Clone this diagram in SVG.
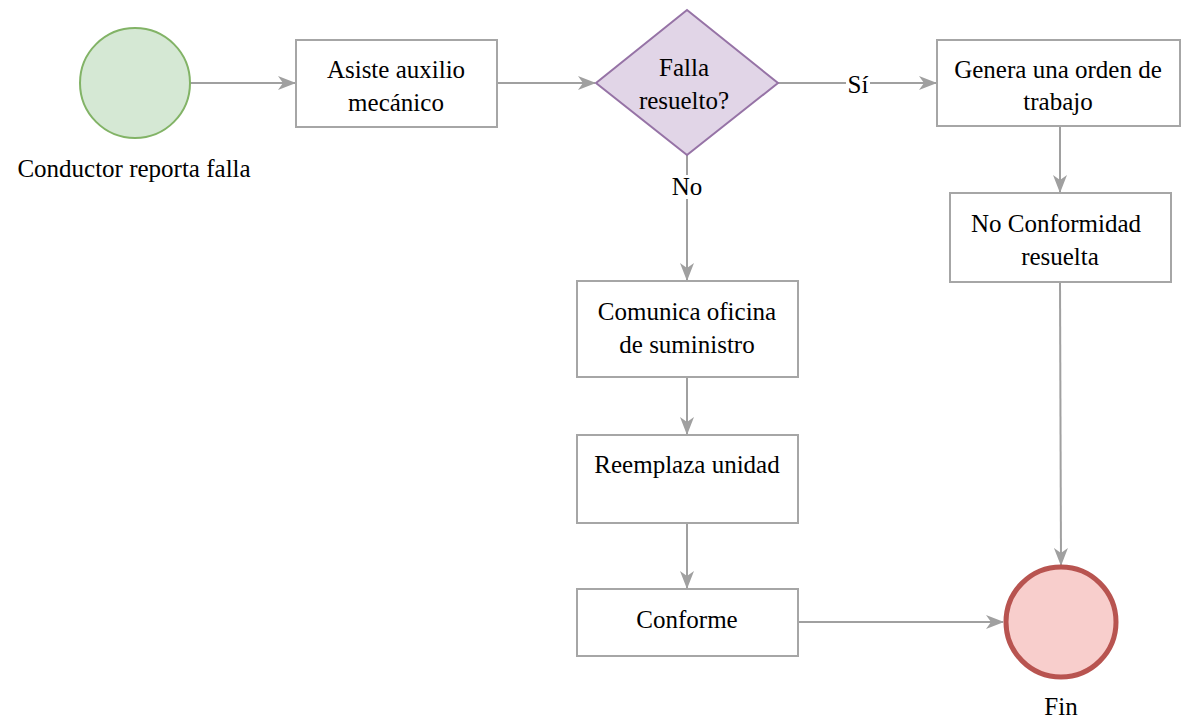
<svg xmlns="http://www.w3.org/2000/svg" width="1183" height="722" viewBox="0 0 1183 722" font-family="Liberation Serif, Times New Roman, DejaVu Serif, serif">
<style>
.box{fill:#ffffff;stroke:#a6a6a6;stroke-width:2}
.t{font-size:25px;fill:#000;text-anchor:middle}
.edge{fill:none;stroke:#a0a0a0;stroke-width:2}
</style>
<defs>
<marker id="arr" viewBox="0 0 18 14" refX="17" refY="7" markerWidth="18" markerHeight="14" markerUnits="userSpaceOnUse" orient="auto">
<path d="M0,0 L18,7 L0,14 L5,7 Z" fill="#a0a0a0"/>
</marker>
</defs>
<rect width="1183" height="722" fill="#ffffff"/>
<g id="connectors">
<path class="edge" d="M190,83 L295,83" marker-end="url(#arr)"/>
<path class="edge" d="M497,83 L595,83" marker-end="url(#arr)"/>
<path class="edge" d="M778,83 L936,83" marker-end="url(#arr)"/>
<path class="edge" d="M687,155 L687,280" marker-end="url(#arr)"/>
<path class="edge" d="M1060,126 L1060,192" marker-end="url(#arr)"/>
<path class="edge" d="M1060,282 L1061,565" marker-end="url(#arr)"/>
<path class="edge" d="M687,377 L687,434" marker-end="url(#arr)"/>
<path class="edge" d="M687,523 L687,588" marker-end="url(#arr)"/>
<path class="edge" d="M798,622 L1003,622" marker-end="url(#arr)"/>
<rect x="846" y="72" width="24" height="24" fill="#ffffff"/>
<text class="t" x="858" y="93">Sí</text>
<rect x="672" y="175" width="30" height="24" fill="#ffffff"/>
<text class="t" x="687" y="195">No</text>
</g>
<g id="start">
<circle cx="135" cy="83" r="55" fill="#d5e8d4" stroke="#82b366" stroke-width="2"/>
<text class="t" x="134" y="177">Conductor reporta falla</text>
</g>
<g id="asiste">
<rect class="box" x="296" y="40" width="201" height="87"/>
<text class="t" x="396" y="78">Asiste auxilio</text>
<text class="t" x="396" y="111">mecánico</text>
</g>
<g id="decision">
<polygon points="687,10 778,83 687,155 596,83" fill="#e1d5e7" stroke="#9673a6" stroke-width="2"/>
<text class="t" x="684" y="76">Falla</text>
<text class="t" x="684" y="109">resuelto?</text>
</g>
<g id="genera">
<rect class="box" x="937" y="40" width="243" height="86"/>
<text class="t" x="1058" y="78">Genera una orden de</text>
<text class="t" x="1058" y="110">trabajo</text>
</g>
<g id="noconf">
<rect class="box" x="950" y="193" width="221" height="89"/>
<text class="t" x="1056" y="232">No Conformidad</text>
<text class="t" x="1060" y="265">resuelta</text>
</g>
<g id="comunica">
<rect class="box" x="577" y="281" width="221" height="96"/>
<text class="t" x="687" y="320">Comunica oficina</text>
<text class="t" x="687" y="353">de suministro</text>
</g>
<g id="reemplaza">
<rect class="box" x="577" y="435" width="221" height="88"/>
<text class="t" x="687" y="473">Reemplaza unidad</text>
</g>
<g id="conforme">
<rect class="box" x="577" y="589" width="221" height="67"/>
<text class="t" x="687" y="628">Conforme</text>
</g>
<g id="fin">
<circle cx="1061" cy="622" r="55" fill="#f8cecc" stroke="#b85450" stroke-width="5"/>
<text class="t" x="1061" y="715">Fin</text>
</g>
</svg>
